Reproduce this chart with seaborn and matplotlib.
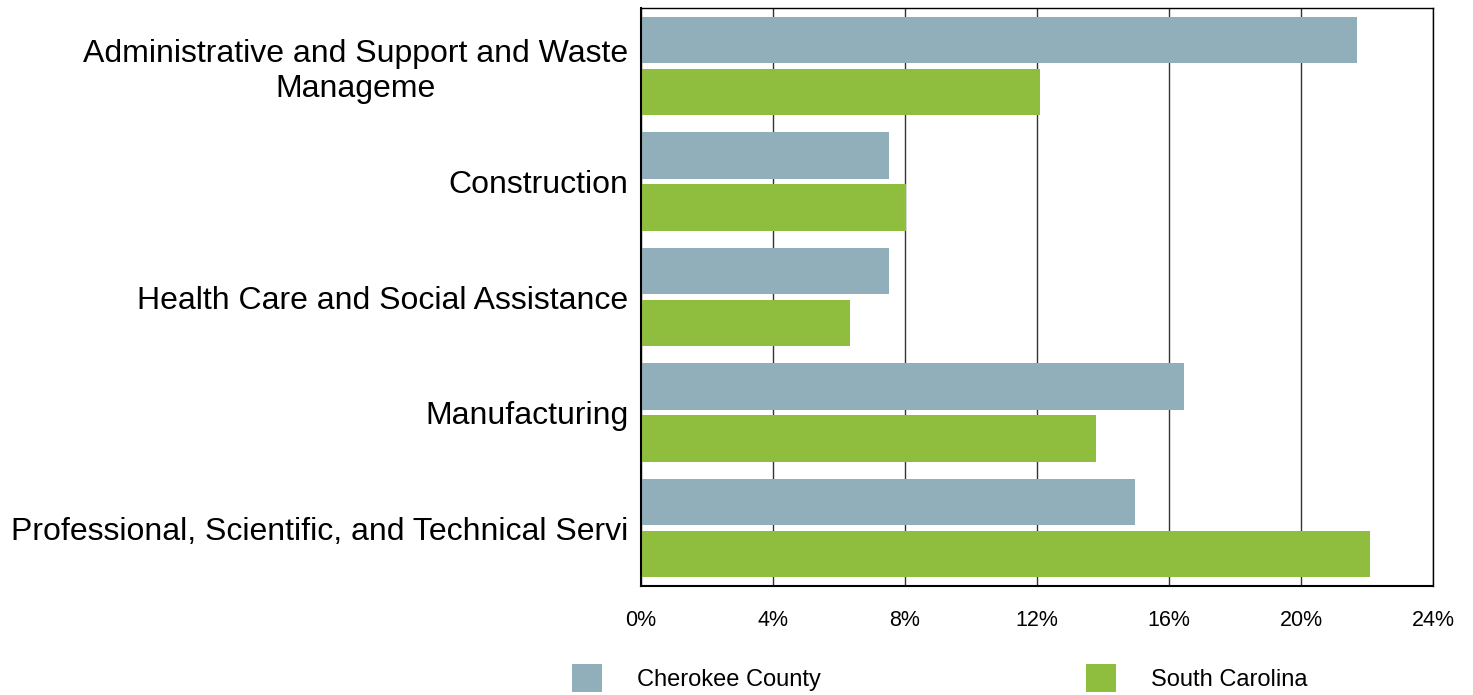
import pandas as pd
import matplotlib.pyplot as plt
import seaborn as sns

# Industry share (%) of employment
industries = [
    "Administrative and Support and Waste\nManageme",
    "Construction",
    "Health Care and Social Assistance",
    "Manufacturing",
    "Professional, Scientific, and Technical Servi",
]
cherokee = [21.7, 7.5, 7.5, 16.45, 14.97]
south_carolina = [12.1, 8.03, 6.33, 13.8, 22.1]
regions = ["Cherokee County", "South Carolina"]
colors = ["#90AFBA", "#8FBD3D"]

df = pd.DataFrame({
    "Industry": industries * 2,
    "Share": cherokee + south_carolina,
    "Region": [regions[0]] * len(industries) + [regions[1]] * len(industries),
})

sns.set_style("white")
plt.rcParams['font.family'] = ['Liberation Sans', 'DejaVu Sans']
plt.rcParams['text.color'] = 'black'
plt.rcParams['xtick.labelcolor'] = 'black'
plt.rcParams['ytick.labelcolor'] = 'black'

fig = plt.figure(figsize=(14.73, 6.95), dpi=100)
ax = fig.add_axes([0.4352, 0.1568, 0.5376, 0.8317])

sns.barplot(data=df, x="Share", y="Industry", hue="Region", palette=colors,
            orient="h", width=0.9, gap=0.11, saturation=1, linewidth=0, ax=ax)

ax.set_xlim(0, 24)
ax.set_ylim(len(industries) - 0.5, -0.5)
ax.set_xticks(range(0, 25, 4))
ax.set_xticklabels([f"{v}%" for v in range(0, 25, 4)], fontsize=15.5)
ax.set_xlabel("")
ax.set_ylabel("")

# vertical grid lines
ax.set_axisbelow(True)
ax.xaxis.grid(True, color="#333333", linewidth=1)
ax.yaxis.grid(False)

# category labels, centered multiline
ax.tick_params(axis="y", length=0, pad=9)
for lbl in ax.get_yticklabels():
    lbl.set_fontsize(23)
    lbl.set_multialignment("center")

# small ticks on the x axis and at category boundaries
ax.tick_params(axis="x", direction="out", length=4, width=1, color="#333333", pad=13)
ax.set_yticks([i - 0.5 for i in range(len(industries) + 1)], minor=True)
ax.tick_params(axis="y", which="minor", direction="out", length=4, width=1, color="black")

for side in ["top", "right"]:
    ax.spines[side].set_visible(True)
    ax.spines[side].set_color("black")
    ax.spines[side].set_linewidth(1)
ax.spines["left"].set_color("black")
ax.spines["left"].set_linewidth(1.5)
ax.spines["bottom"].set_color("black")
ax.spines["bottom"].set_linewidth(1.5)

handles, labels = ax.get_legend_handles_labels()
ax.legend_.remove()
fig.legend(handles, labels, loc="center", bbox_to_anchor=(0.638, 0.0245),
           ncol=2, frameon=False, fontsize=17, handlelength=1.27,
           handleheight=1.4, handletextpad=1.48, columnspacing=11.2,
           borderpad=0)

fig.savefig("out.png", dpi=100)
